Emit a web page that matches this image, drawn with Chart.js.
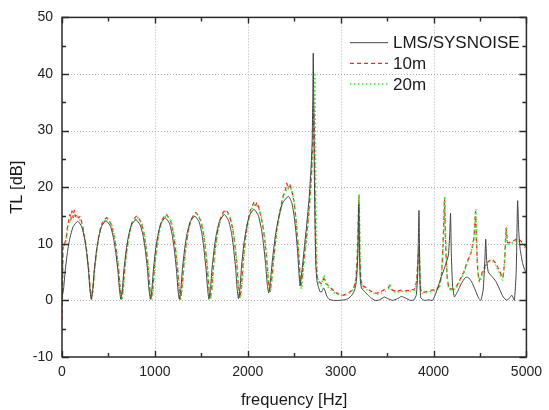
<!DOCTYPE html>
<html>
<head>
<meta charset="utf-8">
<script src="https://cdn.jsdelivr.net/npm/chart.js@4.4.1/dist/chart.umd.min.js"></script>
<style>
  html, body { margin: 0; padding: 0; background: #ffffff; }
  canvas { display: block; }
</style>
</head>
<body>
<canvas id="tl" width="549" height="410"></canvas>
<script>
// Transmission loss spectra: LMS/SYSNOISE reference and two model lengths
const seriesNames = ['LMS/SYSNOISE', '10m', '20m'];

const freqLMS = [
  0, 17, 34, 60, 85, 119, 170, 213, 242, 264, 286, 300, 315,
  331, 347, 371, 395, 426, 474, 522, 553, 577, 602, 618, 634,
  650, 666, 691, 715, 747, 796, 843, 874, 897, 921, 936, 952,
  968, 984, 1008, 1032, 1063, 1111, 1158, 1187, 1208, 1232, 1248, 1263,
  1280, 1296, 1321, 1346, 1380, 1430, 1476, 1506, 1527, 1551, 1567, 1582,
  1599, 1615, 1640, 1665, 1698, 1748, 1793, 1824, 1846, 1870, 1885, 1900,
  1917, 1933, 1958, 1984, 2017, 2067, 2114, 2146, 2169, 2193, 2209, 2225,
  2246, 2268, 2300, 2332, 2374, 2438, 2475, 2500, 2519, 2537, 2550, 2562,
  2585, 2610, 2635, 2660, 2680, 2693, 2700, 2705, 2710, 2717, 2725, 2733, 2745, 2760,
  2780, 2800, 2815, 2830, 2850, 2875, 2920, 2980, 3040, 3080, 3120, 3150, 3170, 3185,
  3195, 3203, 3212, 3225, 3250, 3290, 3330, 3370, 3420, 3470, 3510, 3560, 3610, 3655,
  3700, 3750, 3790, 3815, 3830, 3843, 3852, 3862, 3900, 3950, 3990, 4030, 4080, 4130,
  4160, 4175, 4183, 4192, 4205, 4225, 4260, 4300, 4340, 4370, 4410, 4450, 4485, 4510,
  4535, 4552, 4562, 4572, 4590, 4630, 4670, 4710, 4750, 4790, 4820, 4844, 4870, 4890,
  4905, 4918, 4933, 4960, 4986, 5000
];
const tlLMS = [
  0.5, 2.0, 5.2, 8.7, 11.0, 13.0, 14.0, 13.0, 11.0, 8.7, 5.2, 2.0, 0.2,
  2.0, 5.2, 8.7, 11.1, 13.1, 14.1, 13.1, 11.1, 8.7, 5.2, 2.0, 0.2,
  2.0, 5.3, 8.9, 11.3, 13.3, 14.3, 13.3, 11.3, 8.9, 5.3, 2.0, 0.2,
  2.0, 5.4, 9.1, 11.5, 13.6, 14.6, 13.6, 11.5, 9.1, 5.4, 2.0, 0.2,
  2.1, 5.5, 9.2, 11.8, 13.9, 14.9, 13.9, 11.8, 9.2, 5.5, 2.1, 0.2,
  2.1, 5.6, 9.4, 12.0, 14.1, 15.2, 14.1, 12.0, 9.4, 5.6, 2.1, 0.3,
  2.3, 6.0, 10.0, 12.7, 15.0, 16.1, 15.0, 12.7, 10.0, 6.2, 3.0, 1.3,
  3.8, 7.6, 11.8, 14.6, 17.2, 18.4, 17.2, 14.8, 12.0, 8.5, 5.0, 2.6,
  5.5, 9.5, 13.5, 18.0, 23.0, 28.0, 36.0, 43.7, 35.0, 22.0, 12.0, 6.0, 3.5, 2.4,
  1.5, 1.6, 2.2, 1.8, 0.8, 0.2, 0.0, 0.0, 0.1, 0.3, 0.9, 1.8, 3.5, 8.0,
  17.0, 8.0, 3.5, 2.1, 1.7, 1.0, 0.4, 0.0, 0.1, 0.6, 0.3, 0.0, 0.3, 0.7,
  0.4, 0.0, 0.1, 1.0, 5.0, 15.9, 5.0, 0.5, 0.0, 0.1, 0.0, 1.5, 4.0, 6.3,
  8.0, 12.0, 15.4, 8.0, 2.5, 0.6, 1.6, 3.0, 4.0, 4.1, 3.3, 1.8, 0.4, 0.0,
  2.0, 7.0, 10.8, 7.0, 5.0, 4.2, 3.4, 2.0, 0.6, 0.0, 0.5, 0.9, 0.0, 5.0,
  17.6, 12.0, 9.0, 6.5, 5.2, 4.7
];

const freq10 = [
  0, 6, 12, 25, 40, 55, 70, 85, 95, 108, 120, 132, 145, 160, 178, 195, 215, 240, 262, 285, 302, 318,
  334, 350, 374, 398, 428, 455, 480, 505, 530, 560, 585, 609, 626, 642,
  658, 674, 699, 723, 755, 780, 806, 830, 853, 884, 907, 931, 946, 962,
  978, 994, 1018, 1042, 1073, 1098, 1122, 1146, 1170, 1199, 1220, 1244, 1260, 1275,
  1292, 1308, 1333, 1358, 1392, 1418, 1442, 1465, 1490, 1520, 1541, 1565, 1581, 1596,
  1613, 1629, 1654, 1679, 1712, 1738, 1762, 1786, 1808, 1839, 1861, 1885, 1900, 1915,
  1932, 1948, 1973, 1999, 2031, 2055, 2070, 2085, 2100, 2128, 2160, 2183, 2207, 2223, 2240,
  2260, 2282, 2313, 2345, 2380, 2405, 2420, 2435, 2450, 2465, 2485, 2510, 2528, 2546, 2560, 2573,
  2600, 2630, 2660, 2683, 2697, 2705, 2711, 2716, 2722, 2729, 2737, 2750, 2770, 2790, 2805, 2820,
  2840, 2870, 2900, 2940, 2980, 3020, 3060, 3100, 3140, 3165, 3182, 3197, 3206, 3216, 3235, 3270,
  3310, 3350, 3390, 3430, 3470, 3510, 3530, 3555, 3600, 3650, 3700, 3750, 3795, 3818, 3833, 3843,
  3851, 3860, 3880, 3930, 3980, 4030, 4065, 4088, 4105, 4118, 4128, 4145, 4165, 4200, 4243, 4290,
  4330, 4367, 4405, 4435, 4452, 4462, 4475, 4492, 4530, 4565, 4600, 4632, 4670, 4710, 4745, 4765,
  4782, 4797, 4830, 4870, 4910, 4950, 4986, 5000
];
const tl10 = [
  -3.5, 3.0, 9.5, 10.0, 10.5, 12.5, 13.8, 15.2, 14.2, 15.8, 14.6, 15.9, 14.8, 15.2, 14.6, 14.8, 13.6, 11.6, 9.2, 5.8, 2.4, 0.3,
  2.2, 5.5, 9.0, 11.6, 13.5, 14.2, 14.6, 14.2, 13.4, 11.4, 8.8, 5.4, 2.1, 0.2,
  2.1, 5.5, 9.2, 11.7, 13.8, 14.5, 14.9, 14.4, 13.7, 11.6, 9.1, 5.4, 2.0, 0.3,
  2.1, 5.6, 9.3, 11.9, 14.0, 14.8, 15.2, 14.7, 14.0, 11.8, 9.3, 5.6, 2.1, 0.2,
  2.2, 5.7, 9.5, 12.2, 14.3, 15.1, 15.5, 15.0, 14.2, 12.1, 9.5, 5.6, 2.1, 0.3,
  2.2, 5.9, 9.9, 12.6, 14.8, 15.6, 16.0, 15.5, 14.7, 12.5, 9.8, 5.8, 2.2, 0.4,
  2.5, 6.4, 10.7, 13.6, 16.0, 16.9, 17.4, 16.8, 17.3, 15.8, 13.4, 10.6, 6.6, 3.2, 1.6,
  4.0, 8.0, 12.5, 15.6, 18.4, 19.5, 20.7, 19.6, 20.6, 19.8, 18.6, 15.8, 12.5, 8.8, 5.0, 2.3,
  6.5, 11.0, 16.0, 21.5, 26.5, 31.0, 33.8, 30.0, 22.0, 13.0, 6.5, 4.0, 3.3, 3.0, 3.4, 3.9,
  3.0, 2.6, 2.1, 1.5, 1.1, 0.9, 1.1, 1.5, 2.2, 4.0, 9.0, 18.4, 9.0, 3.8, 2.6, 2.3,
  1.8, 1.4, 1.3, 1.5, 1.9, 2.2, 2.6, 1.9, 1.6, 1.8, 1.7, 1.8, 2.0, 3.5, 7.5, 9.3,
  6.0, 2.0, 1.4, 1.6, 1.8, 2.0, 2.6, 5.0, 11.0, 18.0, 11.0, 4.5, 2.2, 2.0, 2.4, 3.8,
  5.2, 7.0, 8.5, 11.0, 15.7, 10.5, 5.5, 3.5, 5.2, 6.4, 7.0, 7.3, 6.5, 5.2, 4.0, 7.0,
  12.8, 10.2, 10.3, 10.6, 10.9, 10.3, 9.6, 9.5
];

const freq20 = [
  0, 6, 12, 25, 40, 55, 70, 90, 110, 135, 160, 185, 212, 240, 262, 285, 302, 320,
  336, 352, 376, 400, 431, 482, 533, 563, 588, 612, 629, 645,
  661, 677, 702, 726, 758, 808, 856, 887, 910, 934, 949, 965,
  981, 997, 1021, 1045, 1076, 1125, 1173, 1202, 1223, 1247, 1263, 1278,
  1295, 1311, 1336, 1361, 1395, 1445, 1493, 1523, 1544, 1568, 1584, 1599,
  1616, 1632, 1657, 1682, 1715, 1765, 1811, 1842, 1864, 1888, 1903, 1918,
  1935, 1951, 1976, 2002, 2034, 2083, 2131, 2163, 2186, 2210, 2226, 2243,
  2263, 2285, 2316, 2348, 2385, 2420, 2450, 2480, 2505, 2525, 2545, 2562, 2578,
  2605, 2635, 2665, 2688, 2702, 2712, 2721, 2727, 2733, 2740, 2750, 2765, 2785, 2805, 2822,
  2840, 2870, 2900, 2940, 2980, 3020, 3060, 3100, 3140, 3165, 3183, 3199, 3208, 3218, 3240,
  3280, 3320, 3360, 3400, 3440, 3480, 3515, 3530, 3550, 3600, 3650, 3700, 3750, 3795, 3818,
  3835, 3845, 3853, 3862, 3880, 3930, 3980, 4030, 4065, 4090, 4108, 4120, 4130, 4147, 4168,
  4205, 4243, 4290, 4330, 4367, 4405, 4437, 4455, 4465, 4478, 4495, 4530, 4565, 4600, 4632,
  4670, 4710, 4745, 4765, 4784, 4798, 4830, 4870, 4910, 4950, 4986, 5000
];
const tl20 = [
  -1.0, 4.0, 9.0, 9.8, 10.3, 12.0, 13.2, 14.2, 14.8, 15.0, 14.8, 14.4, 13.5, 11.5, 9.1, 5.7, 2.3, 0.2,
  2.1, 5.4, 9.0, 11.5, 13.4, 14.4, 13.4, 11.4, 8.9, 5.3, 2.0, 0.2,
  2.1, 5.5, 9.2, 11.6, 13.7, 14.7, 13.7, 11.6, 9.1, 5.4, 2.0, 0.2,
  2.1, 5.5, 9.3, 11.8, 14.0, 15.0, 14.0, 11.8, 9.3, 5.5, 2.1, 0.2,
  2.2, 5.6, 9.4, 12.1, 14.3, 15.3, 14.3, 12.1, 9.4, 5.6, 2.1, 0.3,
  2.2, 5.8, 9.8, 12.5, 14.6, 15.7, 14.6, 12.4, 9.7, 5.8, 2.2, 0.4,
  2.5, 6.3, 10.6, 13.5, 15.9, 17.0, 15.8, 13.3, 10.5, 6.6, 3.3, 1.7,
  4.0, 8.0, 12.4, 15.5, 18.3, 19.7, 20.1, 19.2, 16.5, 13.0, 9.0, 5.0, 2.0,
  6.5, 11.0, 16.5, 22.5, 28.0, 34.5, 40.2, 30.0, 18.0, 8.5, 4.5, 3.0, 2.6, 3.5, 4.5,
  3.2, 2.2, 1.7, 1.3, 1.0, 0.9, 1.0, 1.4, 2.0, 3.8, 9.5, 18.8, 9.0, 3.5, 2.2,
  1.9, 1.5, 1.2, 1.1, 1.3, 1.6, 2.0, 3.0, 1.8, 1.4, 1.6, 1.5, 1.6, 1.8, 3.0,
  8.0, 9.5, 6.0, 1.8, 1.2, 1.4, 1.6, 1.8, 2.4, 5.5, 12.0, 18.4, 11.0, 4.0, 2.0,
  1.8, 2.2, 3.6, 5.0, 6.8, 8.6, 11.5, 16.0, 10.0, 5.0, 3.2, 4.8, 6.0, 6.8, 7.0,
  6.2, 4.8, 3.6, 7.5, 13.0, 10.0, 10.0, 10.4, 10.6, 10.0, 9.3, 9.2
];

// Axis ranges and tick spacing
const xTicks = [0, 1000, 2000, 3000, 4000, 5000];
const yTicks = [-10, 0, 10, 20, 30, 40, 50];

const FONT = "'Liberation Sans', Arial, Helvetica, sans-serif";
const toPoints = (xs, ys) => xs.map((x, i) => ({ x: x, y: ys[i] }));

// Dotted grid at the major ticks, drawn under the curves
const gridPlugin = {
  id: 'dottedGrid',
  beforeDatasetsDraw(chart) {
    const { ctx, chartArea: a, scales } = chart;
    ctx.save();
    ctx.strokeStyle = '#b4b4b4';
    ctx.lineWidth = 1;
    ctx.setLineDash([1, 2]);
    ctx.beginPath();
    xTicks.slice(1, -1).forEach(v => {
      const px = Math.round(scales.x.getPixelForValue(v)) + 0.5;
      ctx.moveTo(px, a.top); ctx.lineTo(px, a.bottom);
    });
    yTicks.slice(1, -1).forEach(v => {
      const py = Math.round(scales.y.getPixelForValue(v)) + 0.5;
      ctx.moveTo(a.left, py); ctx.lineTo(a.right, py);
    });
    ctx.stroke();
    ctx.restore();
  }
};

// Frame with inward-pointing major/minor ticks on all four sides, plus legend
const framePlugin = {
  id: 'frame',
  afterDraw(chart) {
    const { ctx, chartArea: a, scales } = chart;
    const xs = scales.x, ys = scales.y;
    ctx.save();
    ctx.strokeStyle = '#2a2a2a';
    ctx.lineWidth = 1.5;
    ctx.setLineDash([]);
    ctx.strokeRect(a.left, a.top, a.right - a.left, a.bottom - a.top);

    ctx.lineWidth = 1.4;
    ctx.beginPath();
    for (let v = xs.min; v <= xs.max; v += 500) {
      const px = Math.round(xs.getPixelForValue(v)) + 0.5;
      const len = (v % 1000 === 0) ? 6 : 4;
      ctx.moveTo(px, a.bottom); ctx.lineTo(px, a.bottom - len);
      ctx.moveTo(px, a.top); ctx.lineTo(px, a.top + len);
    }
    for (let v = ys.min; v <= ys.max; v += 5) {
      const py = Math.round(ys.getPixelForValue(v)) + 0.5;
      const len = (v % 10 === 0) ? 7 : 4;
      ctx.moveTo(a.left, py); ctx.lineTo(a.left + len, py);
      ctx.moveTo(a.right, py); ctx.lineTo(a.right - len, py);
    }
    ctx.stroke();

    // legend entries
    const lx0 = 350, lx1 = 388, tx = 393, rowY = [42.7, 63.3, 84];
    ctx.font = '17px ' + FONT;
    ctx.textBaseline = 'middle';
    ctx.textAlign = 'left';
    chart.data.datasets.forEach((ds, i) => {
      ctx.save();
      ctx.strokeStyle = ds.borderColor;
      ctx.lineWidth = ds.borderWidth;
      ctx.setLineDash(ds.borderDash || []);
      ctx.beginPath();
      ctx.moveTo(lx0, rowY[i]); ctx.lineTo(lx1, rowY[i]);
      ctx.stroke();
      ctx.restore();
      ctx.fillStyle = '#1a1a1a';
      ctx.fillText(ds.label, tx, rowY[i] + 1);
    });
    ctx.restore();
  }
};

new Chart(document.getElementById('tl'), {
  type: 'line',
  data: {
    datasets: [
      {
        label: seriesNames[0],
        data: toPoints(freqLMS, tlLMS),
        borderColor: '#444444',
        borderWidth: 1,
        borderDash: [],
        order: 0
      },
      {
        label: seriesNames[1],
        data: toPoints(freq10, tl10),
        borderColor: '#ff2424',
        borderWidth: 1.3,
        borderDash: [4, 3],
        order: 2
      },
      {
        label: seriesNames[2],
        data: toPoints(freq20, tl20),
        borderColor: '#33f033',
        borderWidth: 1.6,
        borderDash: [1.5, 2.5],
        order: 1
      }
    ]
  },
  options: {
    responsive: false,
    devicePixelRatio: 1,
    animation: false,
    events: [],
    layout: { padding: { top: 14, right: 16, left: 0, bottom: 0 } },
    elements: {
      point: { radius: 0 },
      line: { tension: 0.15, fill: false }
    },
    plugins: {
      legend: { display: false },
      tooltip: { enabled: false },
      title: { display: false }
    },
    scales: {
      x: {
        type: 'linear',
        min: xTicks[0],
        max: xTicks[xTicks.length - 1],
        afterBuildTicks(scale) { scale.ticks = xTicks.map(v => ({ value: v })); },
        afterFit(scale) { scale.height = 53; },
        ticks: {
          font: { family: FONT, size: 14 }, color: '#222', padding: 7, maxRotation: 0,
          callback: v => String(v)
        },
        grid: { display: false, drawTicks: false },
        border: { display: false },
        title: {
          display: true,
          text: 'frequency [Hz]',
          font: { family: FONT, size: 16.5 },
          color: '#1a1a1a',
          padding: { top: 0, bottom: 0 }
        }
      },
      y: {
        type: 'linear',
        min: yTicks[0],
        max: yTicks[yTicks.length - 1],
        afterBuildTicks(scale) { scale.ticks = yTicks.map(v => ({ value: v })); },
        afterFit(scale) { scale.width = 62; },
        ticks: {
          font: { family: FONT, size: 14 }, color: '#222', padding: 9,
          callback: v => String(v)
        },
        grid: { display: false, drawTicks: false },
        border: { display: false },
        title: {
          display: true,
          text: 'TL [dB]',
          font: { family: FONT, size: 16.5 },
          color: '#1a1a1a',
          padding: { top: 8, bottom: 0 }
        }
      }
    }
  },
  plugins: [gridPlugin, framePlugin]
});
</script>
</body>
</html>
